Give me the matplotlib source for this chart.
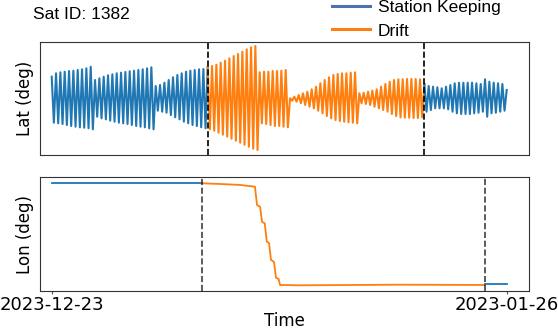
import numpy as np
import matplotlib
matplotlib.use("Agg")
import matplotlib.pyplot as plt
from matplotlib.lines import Line2D

# ---------------- data ----------------
title_text = "Sat ID: 1382"
tick_labels = ["2023-12-23", "2023-01-26"]
span_days = 34.0
legend_labels = ["Station Keeping", "Drift"]

# Latitude extrema per oscillation (millidegrees)
sk1_high = [21.3, 24.7, 25.7, 26.3, 27, 27.3, 28, 28.7, 29.7, 31.3,
            18, 19.7, 21.3, 22.7, 23.7, 24.7, 25.3, 26, 26.7, 27.3, 28, 28.7, 29.7, 30.7,
            12, 13, 15.3, 18, 20.7, 23, 24.7, 26.3, 27.3, 28, 28.7, 29]
sk1_low = [-24.7, -25.3, -26, -27, -28, -28.7, -29.3, -29.7, -30.3, -31.3,
           -18.7, -20.3, -21.3, -22.7, -23.7, -24.7, -25.3, -26, -27, -28, -28.7, -29.3, -30.3, -31.3,
           -12.7, -13.7, -14.7, -17, -19.3, -21.3, -23.7, -25.3, -27, -28, -29.3, -30.3]
drift_high = [30.7, 32, 33.3, 35.3, 37.3, 39.7, 42, 44, 46.3, 48.7, 50.7, 52,
              25.7, 26.3, 26.3, 27, 27, 27.3, 28,
              -0.3, 1.3, 3, 4.7, 6.3, 8.7, 11.3, 14.7, 18, 20.7, 23, 24, 24.7, 24.7, 25.3, 25.7,
              4.7, 5.3, 6.3, 7.3, 8.7, 11.3, 14, 16.3, 18, 18.7, 18.7, 19, 19, 19, 18.7]
drift_low = [-31.3, -32.7, -34.7, -36.7, -38.7, -40.7, -42.7, -44.7, -46.7, -48.7, -50.7, -52,
             -25.3, -26, -27, -28, -28, -28.7, -29.3,
             -2.7, -3.7, -5.3, -7, -8.7, -10.3, -12.7, -15.3, -18, -20.3, -22, -23, -23.7, -24.3, -24.7, -25.3,
             -5.3, -6, -7, -8.7, -10.3, -12, -13.7, -16, -18, -19.3, -19.7, -19.7, -20, -20, -19.3]
sk2_high = [14, 12, 11.3, 10.7, 9.7, 11.3, 13, 14.7, 15.3, 15.3, 15.3, 15.3, 14.7, 14, 18.7, 16.3, 15.3, 14.7, 14]
sk2_low = [-13.7, -12, -10.3, -10.3, -10.3, -11.3, -13.7, -15.3, -16, -16, -16, -15.3, -14.7, -13.7, -18.7, -15.3, -14.7, -13.7, -12.7]
lat_last = 8.0

# Longitude breakpoints (days since start, degrees)
lon_sk1_t = [0.0, 11.21]
lon_sk1_v = [95.00, 95.00]
lon_drift_t = [11.21, 12.58, 14.07, 15.19, 15.34, 15.57, 15.72, 15.92, 16.07, 16.24,
               16.39, 16.61, 16.76, 16.96, 17.06, 18.56, 26.03, 32.38]
lon_drift_v = [95.00, 94.90, 94.75, 94.49, 91.75, 91.49, 89.20, 89.00, 86.24, 86.05,
               83.50, 83.20, 80.84, 80.65, 79.75, 79.70, 79.79, 79.75]
lon_sk2_t = [32.38, 34.0]
lon_sk2_v = [79.90, 79.90]

# ---------------- build lat series ----------------
def interleave(h, l):
    out = []
    for a, b in zip(h, l):
        out += [a, b]
    return out

lat_all = np.array(interleave(sk1_high, sk1_low) + interleave(drift_high, drift_low)
                   + interleave(sk2_high, sk2_low) + [lat_last]) / 1000.0
t_lat = np.linspace(0, span_days, len(lat_all))
i1 = 2 * len(sk1_high)
i2 = i1 + 2 * len(drift_high)

blue = "#1f77b4"
orange = "#ff7f0e"

fig = plt.figure(figsize=(5.58, 3.31), dpi=100)
W, H = 558, 331
ax1 = fig.add_axes([40 / W, 1 - 155 / H, 489 / W, 113 / H])
ax2 = fig.add_axes([40 / W, 1 - 291 / H, 489 / W, 114 / H])

lw = 1.5
ax1.plot(t_lat[:i1 + 1], lat_all[:i1 + 1], color=blue, lw=lw)
ax1.plot(t_lat[i1:i2 + 1], lat_all[i1:i2 + 1], color=orange, lw=lw)
ax1.plot(t_lat[i2:], lat_all[i2:], color=blue, lw=lw)
for xv in (t_lat[i1], t_lat[i2]):
    ax1.axvline(xv, color="k", ls="--", lw=1.2)

ax2.plot(lon_sk1_t, lon_sk1_v, color=blue, lw=1.3)
ax2.plot(lon_drift_t, lon_drift_v, color=orange, lw=1.3)
ax2.plot(lon_sk2_t, lon_sk2_v, color=blue, lw=1.3)
for xv in (lon_drift_t[0], lon_drift_t[-1]):
    ax2.axvline(xv, color="k", alpha=0.75, ls="--", lw=1.2)

px_per_day = 455.0 / span_days
xlim = (-11.7 / px_per_day, span_days + 22.3 / px_per_day)
for ax in (ax1, ax2):
    ax.set_xlim(*xlim)
    ax.set_yticks([])
    for s in ax.spines.values():
        s.set_color("#333333")

ax1.set_ylim(-0.057, 0.056)
ax2.set_ylim(78.845, 95.945)
ax1.set_xticks([])
ax2.set_xticks([0, span_days])
ax2.set_xticklabels(tick_labels, fontsize=13)
ax2.tick_params(axis="x", length=2.5, pad=1.2, color="#555555")
ax1.set_ylabel("Lat (deg)", fontsize=12)
ax2.set_ylabel("Lon (deg)", fontsize=12)
ax2.set_xlabel("Time", fontsize=12, labelpad=-1.5)

fig.text(32.7 / W, 1 - 14.3 / H, title_text, fontsize=12.5,
         family="Liberation Sans", va="center", ha="left")

handles = [Line2D([], [], color="#4c72b0", lw=2.2), Line2D([], [], color=orange, lw=2.2)]
fig.legend(handles, legend_labels, loc="center left", bbox_to_anchor=(316 / W, 1 - 19.3 / H),
           frameon=False, prop={"family": "Liberation Sans", "size": 12.5},
           handlelength=2.2, handletextpad=0.45, labelspacing=0.47, borderpad=0.4)

fig.savefig("out.png", dpi=100)
